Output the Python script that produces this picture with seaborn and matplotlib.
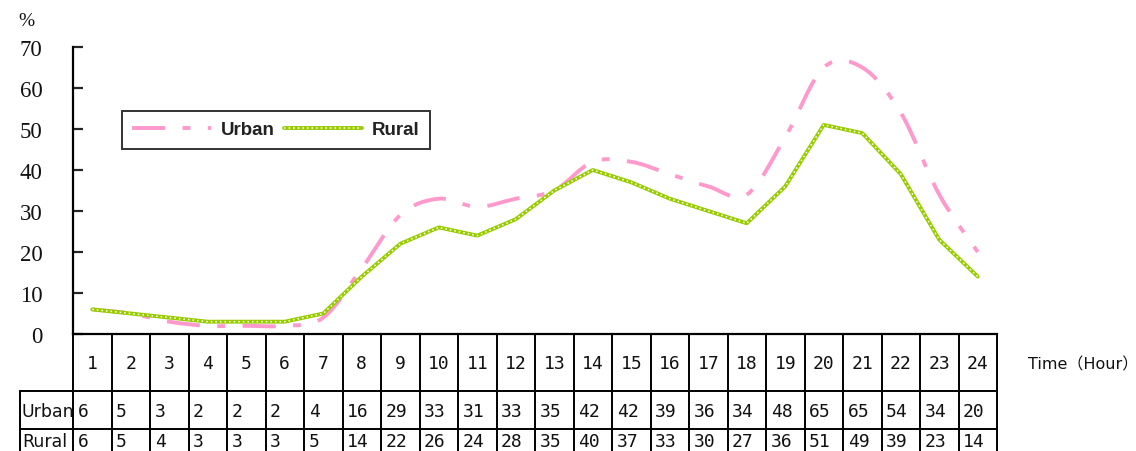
import numpy as np
import pandas as pd
import matplotlib
matplotlib.use("Agg")
import matplotlib.pyplot as plt
import seaborn as sns
from matplotlib.path import Path
from matplotlib.patches import PathPatch
from matplotlib.lines import Line2D
from matplotlib.legend_handler import HandlerTuple

hours = list(range(1, 25))
urban = [6, 5, 3, 2, 2, 2, 4, 16, 29, 33, 31, 33, 35, 42, 42, 39, 36, 34, 48, 65, 65, 54, 34, 20]
rural = [6, 5, 4, 3, 3, 3, 5, 14, 22, 26, 24, 28, 35, 40, 37, 33, 30, 27, 36, 51, 49, 39, 23, 14]
y_ticks = [0, 10, 20, 30, 40, 50, 60, 70]
series_names = ["Urban", "Rural"]

PINK = "#FF99CC"
GREEN = "#99CC00"

sns.set_theme(style="white")
plt.rcParams["font.family"] = ["DejaVu Sans", "Noto Sans CJK SC"]

fig = plt.figure(figsize=(11.36, 4.52), dpi=100)
ax = fig.add_axes([73 / 1136, 1 - 335 / 452, (997 - 73) / 1136, (335 - 48) / 452])

df = pd.DataFrame({"hour": hours, "Urban": urban, "Rural": rural})

# Rural: green chain-like line (solid stroke with a white dotted core)
rural_core = (0, (1.0, 2.0))
sns.lineplot(data=df, x="hour", y="Rural", ax=ax, color=GREEN, lw=2.8,
             legend=False, zorder=3)
sns.lineplot(data=df, x="hour", y="Rural", ax=ax, color="white", lw=1.1,
             linestyle=rural_core, legend=False, zorder=4)

# Urban: smoothed curve (Catmull-Rom style Bezier through the data points)
pts = np.column_stack([hours, urban]).astype(float)
ext = np.vstack([pts[0], pts, pts[-1]])
verts = [tuple(pts[0])]
codes = [Path.MOVETO]
for i in range(1, len(ext) - 2):
    p0, p1, p2, p3 = ext[i - 1], ext[i], ext[i + 1], ext[i + 2]
    c1 = p1 + (p2 - p0) / 6.0
    c2 = p2 - (p3 - p1) / 6.0
    verts += [tuple(c1), tuple(c2), tuple(p2)]
    codes += [Path.CURVE4, Path.CURVE4, Path.CURVE4]
urban_dash = (0, (8.5, 4.5, 2.0, 4.5))
ax.add_patch(PathPatch(Path(verts, codes), fill=False, edgecolor=PINK, lw=2.8,
                       linestyle=urban_dash, capstyle="butt", zorder=2))

ax.set_xlim(0.5, 24.5)
ax.set_ylim(0, 70)
ax.set_xticks([])
ax.set_yticks(y_ticks)
ax.set_yticklabels([str(t) for t in y_ticks], family="Liberation Serif",
                   fontsize=16.5, color="#111111")
ax.tick_params(axis="y", direction="in", length=7, width=1.6, pad=22, left=True)
ax.set_xlabel("")
ax.set_ylabel("")
for side in ["top", "right"]:
    ax.spines[side].set_visible(False)
for side in ["left", "bottom"]:
    ax.spines[side].set_color("black")
    ax.spines[side].set_linewidth(1.6)
ax.grid(False)

# Data table beneath the plot area
trans = ax.get_xaxis_transform()
y_hdr = -0.1986
y_urb = -0.331
y_bot = -0.6
x_lab = -0.877
lw_t = 1.4
for xb in np.arange(0.5, 25.0, 1.0):
    ax.add_line(Line2D([xb, xb], [0, y_bot], transform=trans, color="black",
                       lw=lw_t, clip_on=False))
ax.add_line(Line2D([x_lab, x_lab], [y_hdr, y_bot], transform=trans, color="black",
                   lw=lw_t, clip_on=False))
for yy in [y_hdr, y_urb]:
    ax.add_line(Line2D([x_lab, 24.5], [yy, yy], transform=trans, color="black",
                       lw=lw_t, clip_on=False))

tfont = dict(family="DejaVu Sans Mono", fontsize=13, color="#111111")
for h, u, r in zip(hours, urban, rural):
    ax.text(h, -0.10, str(h), transform=trans, ha="center", va="center",
            clip_on=False, **tfont)
    ax.text(h - 0.38, -0.268, str(u), transform=trans, ha="left", va="center",
            clip_on=False, **tfont)
    ax.text(h - 0.38, -0.372, str(r), transform=trans, ha="left", va="center",
            clip_on=False, **tfont)
for name, yy in zip(series_names, [-0.268, -0.372]):
    ax.text(x_lab + 0.05, yy, name, transform=trans, ha="left", va="center",
            family="DejaVu Sans", fontsize=12.5, color="#111111", clip_on=False)

fig.text(1028 / 1136, 1 - 365 / 452, "Time（Hour）", ha="left", va="center",
         fontsize=11.5, color="#111111", family=["DejaVu Sans", "Noto Sans CJK SC"])
fig.text(18 / 1136, 1 - 22 / 452, "%", ha="left", va="center",
         family="Liberation Serif", fontsize=14, color="#111111")

# Legend
h_urban = Line2D([], [], color=PINK, lw=2.8, linestyle=urban_dash)
h_r1 = Line2D([], [], color=GREEN, lw=2.8)
h_r2 = Line2D([], [], color="white", lw=1.1, linestyle=rural_core)
leg = ax.legend([h_urban, (h_r1, h_r2)], series_names, loc="upper left",
                bbox_to_anchor=(0.053, 0.777), ncol=2, frameon=True,
                fancybox=False, shadow=False, borderaxespad=0, handlelength=4.2,
                columnspacing=0.5, handletextpad=0.5, borderpad=0.55,
                handler_map={tuple: HandlerTuple(ndivide=1, pad=0)},
                prop=dict(family="Liberation Sans", size=13.5, weight="bold"))
leg.get_frame().set_edgecolor("black")
leg.get_frame().set_linewidth(1.4)
for t in leg.get_texts():
    t.set_color("#222222")

fig.savefig("out.png", dpi=100, facecolor="white")
